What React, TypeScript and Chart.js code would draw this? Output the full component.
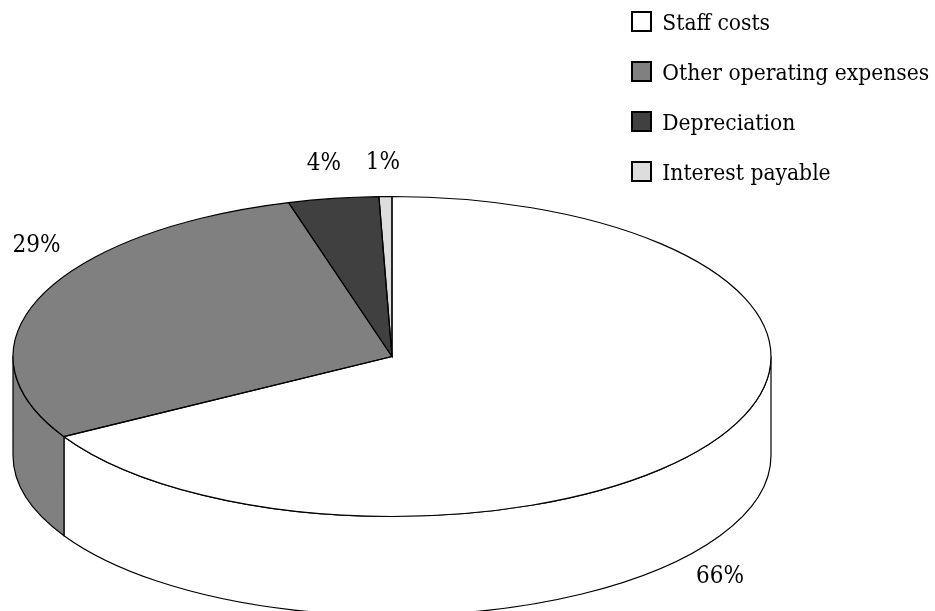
import React, { useEffect, useRef } from "react";
import { Chart, registerables } from "chart.js";

Chart.register(...registerables);

const categories = ["Staff costs", "Other operating expenses", "Depreciation", "Interest payable"];
const shares = [66.65, 28.95, 3.85, 0.55];
const percentLabels = ["66%", "29%", "4%", "1%"];
const colors = ["#ffffff", "#808080", "#404040", "#dddddd"];

const FONT = '"DejaVu Serif Condensed", "DejaVu Serif", serif';
const LEGEND_FONT_SIZE = 22.6;
const LABEL_FONT_SIZE = 24;
const CENTER = { x: 392, y: 356.5 };
const Y_SCALE = 160 / 379;
const RADIUS = 379;
const DEPTH = 99;
const LINE_WIDTH = 1.2;
const LEGEND_TEXT_DROP = 3;
const LABEL_POSITIONS = [
  { x: 720, y: 577 },
  { x: 36.5, y: 246 },
  { x: 324, y: 164 },
  { x: 383, y: 163 },
];

const pie3d = {
  id: "pie3d",
  afterLayout(chart: any) {
    const legend = chart.legend;
    const pad = legend.options.labels.padding;
    legend.left = 632 - pad;
    legend.right = 935;
    legend.top = 10.3 - pad;
  },
  beforeDatasetsDraw(chart: any) {
    const { ctx } = chart;
    const arcs = chart.getDatasetMeta(0).data;
    const ry = RADIUS * Y_SCALE;
    ctx.save();
    ctx.lineWidth = LINE_WIDTH;
    ctx.strokeStyle = "#000";
    arcs.forEach((arc: any, i: number) => {
      const a0 = Math.max(arc.startAngle, 0);
      const a1 = Math.min(arc.endAngle, Math.PI);
      if (a1 <= a0) return;
      ctx.beginPath();
      ctx.ellipse(CENTER.x, CENTER.y, RADIUS, ry, 0, a0, a1);
      ctx.ellipse(CENTER.x, CENTER.y + DEPTH, RADIUS, ry, 0, a1, a0, true);
      ctx.closePath();
      ctx.fillStyle = colors[i];
      ctx.fill();
      ctx.stroke();
    });
    ctx.restore();
    const first = arcs[0];
    ctx.save();
    ctx.translate(CENTER.x, CENTER.y);
    ctx.scale(1, Y_SCALE);
    ctx.translate(-first.x, -first.y);
  },
  afterDatasetsDraw(chart: any) {
    const { ctx } = chart;
    ctx.restore();
    const arcs = chart.getDatasetMeta(0).data;
    const ry = RADIUS * Y_SCALE;
    ctx.save();
    ctx.lineWidth = LINE_WIDTH;
    ctx.strokeStyle = "#000";
    arcs.forEach((arc: any) => {
      ctx.beginPath();
      ctx.moveTo(CENTER.x, CENTER.y);
      ctx.ellipse(CENTER.x, CENTER.y, RADIUS, ry, 0, arc.startAngle, arc.endAngle);
      ctx.closePath();
      ctx.stroke();
    });
    ctx.fillStyle = "#000";
    ctx.font = `${LABEL_FONT_SIZE}px ${FONT}`;
    ctx.textAlign = "center";
    ctx.textBaseline = "middle";
    percentLabels.forEach((t, i) => {
      ctx.fillText(t, LABEL_POSITIONS[i].x, LABEL_POSITIONS[i].y);
    });
    ctx.restore();
  },
};

export default function App() {
  const ref = useRef<HTMLCanvasElement>(null);
  useEffect(() => {
    document.body.style.margin = "0";
    document.body.style.background = "#fff";
    const chart = new Chart(ref.current!, {
      type: "pie",
      data: {
        labels: categories,
        datasets: [
          {
            data: shares,
            backgroundColor: colors,
            borderWidth: 0,
            clip: false,
          } as any,
        ],
      },
      options: {
        responsive: false,
        animation: false,
        radius: RADIUS,
        plugins: {
          tooltip: { enabled: false },
          legend: {
            position: "right",
            align: "start",
            labels: {
              boxWidth: 19,
              boxHeight: 19,
              padding: 50 - 2 * LEGEND_TEXT_DROP,
              color: "#000",
              font: { family: FONT, size: LEGEND_FONT_SIZE, lineHeight: `${LEGEND_TEXT_DROP}px` },
              generateLabels(c: any) {
                return Chart.overrides.pie.plugins.legend.labels.generateLabels(c).map((l: any) => ({
                  ...l,
                  text: ["", l.text],
                  strokeStyle: "#000",
                  lineWidth: 2,
                }));
              },
            },
          },
        },
      } as any,
      plugins: [pie3d],
    });
    return () => chart.destroy();
  }, []);
  return <canvas ref={ref} width={935} height={611} style={{ display: "block" }} />;
}
